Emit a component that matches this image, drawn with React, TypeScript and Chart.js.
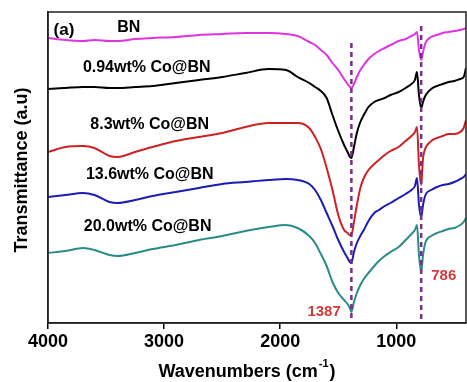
import React, { useEffect, useRef } from "react";
import { Chart, registerables } from "chart.js";
Chart.register(...registerables);

const wavenumbers = [4000, 3850, 3700, 3600, 3470, 3400, 3250, 3100, 2900, 2700, 2500, 2300, 2100, 1950, 1850, 1750, 1700, 1650, 1600, 1550, 1500, 1450, 1420, 1400, 1387, 1365, 1340, 1310, 1280, 1240, 1190, 1150, 1100, 1050, 980, 920, 870, 840, 822, 805, 786, 770, 755, 740, 700, 650, 600, 550, 500, 450, 420, 400];

const bnValues = [285, 283, 282, 283, 282, 282, 284, 285, 286, 288, 289, 290, 290, 289, 287, 281, 278, 273, 268, 260, 253, 244, 239, 236, 235, 239, 246, 253, 258, 264, 269, 272, 275, 278, 282, 284, 287, 289, 291, 273, 263, 271, 278, 282, 286, 288, 290, 291, 292, 293, 294, 295];
const co094Values = [234, 235, 236, 236, 235, 235, 236, 237, 240, 243, 246, 250, 254, 253, 246, 240, 236, 232, 225, 208, 192, 178, 171, 166, 165, 176, 190, 201, 208, 216, 221, 223, 225, 228, 231, 235, 239, 243, 251, 228, 215, 221, 226, 229, 234, 237, 239, 241, 242, 244, 246, 255];
const co83Values = [171, 176, 177, 175, 167, 166, 171, 176, 182, 186, 190, 196, 200, 200, 200, 195, 186, 174, 155, 133, 108, 93, 90, 88, 88, 101, 118, 135, 145, 153, 159, 163, 168, 172, 176, 182, 187, 191, 196, 158, 138, 165, 173, 177, 182, 185, 187, 189, 189, 191, 195, 203];
const co136Values = [126, 128, 130, 128, 121, 120, 123, 127, 131, 135, 139, 141, 143, 144, 143, 139, 133, 123, 110, 97, 83, 71, 65, 61, 60, 71, 80, 87, 93, 102, 110, 113, 117, 120, 125, 129, 133, 137, 145, 118, 106, 118, 126, 130, 133, 136, 138, 139, 141, 144, 146, 149];
const co200Values = [70, 72, 75, 73, 68, 67, 70, 74, 78, 83, 87, 92, 96, 98, 95, 87, 80, 69, 57, 41, 30, 23, 19, 15, 11, 21, 30, 38, 44, 50, 57, 62, 67, 71, 76, 83, 89, 93, 98, 68, 51, 68, 78, 83, 87, 90, 92, 94, 95, 98, 101, 105];

const seriesNames = ["BN", "0.94wt% Co@BN", "8.3wt% Co@BN", "13.6wt% Co@BN", "20.0wt% Co@BN"];
const seriesColors = ["#de35de", "#000000", "#cc2222", "#1c1cb4", "#2a8c88"];
const seriesLabelPos = [
  [3305, 295],
  [3150, 255],
  [3124, 198],
  [3124, 148],
  [3142, 96],
];

const xTicks = [4000, 3000, 2000, 1000];
const peakPositions = [1387, 786];
const peakLineTops = [280, 297];
const peakLabels = ["1387", "786"];
const peakLabelPos = [
  [1622, 11],
  [592, 47],
];

const FONT = "Arial, 'Liberation Sans', sans-serif";

const overlayPlugin = {
  id: "overlay",
  afterDraw(chart: any) {
    const { ctx, chartArea, scales } = chart;
    const xs = scales.x;
    const ys = scales.y;
    ctx.save();
    ctx.strokeStyle = "#222";
    ctx.lineWidth = 1.5;
    ctx.strokeRect(chartArea.left, chartArea.top, chartArea.right - chartArea.left, chartArea.bottom - chartArea.top);

    ctx.fillStyle = "#000";
    ctx.textAlign = "center";
    ctx.textBaseline = "middle";
    ctx.font = `bold 17px ${FONT}`;
    ctx.fillText("(a)", xs.getPixelForValue(3863), ys.getPixelForValue(293));

    ctx.font = `bold 16px ${FONT}`;
    seriesNames.forEach((name, i) => {
      const [wx, wy] = seriesLabelPos[i];
      ctx.fillText(name, xs.getPixelForValue(wx), ys.getPixelForValue(wy));
    });

    ctx.fillStyle = "#d03a3a";
    ctx.font = `bold 15px ${FONT}`;
    peakLabels.forEach((t, i) => {
      const [wx, wy] = peakLabelPos[i];
      ctx.fillText(t, xs.getPixelForValue(wx), ys.getPixelForValue(wy));
    });

    ctx.fillStyle = "#000";
    ctx.textAlign = "left";
    const main = "Wavenumbers (cm";
    const sup = "-1";
    const end = ")";
    ctx.font = `bold 18px ${FONT}`;
    const w1 = ctx.measureText(main).width;
    const w3 = ctx.measureText(end).width;
    ctx.font = `bold 11px ${FONT}`;
    const w2 = ctx.measureText(sup).width;
    const total = w1 + w2 + w3 + 2;
    const cx = 247;
    const cy = 372;
    const x0 = cx - total / 2;
    ctx.font = `bold 18px ${FONT}`;
    ctx.fillText(main, x0, cy);
    ctx.font = `bold 11px ${FONT}`;
    ctx.fillText(sup, x0 + w1 + 1, cy - 8);
    ctx.font = `bold 18px ${FONT}`;
    ctx.fillText(end, x0 + w1 + w2 + 2, cy);

    ctx.translate(22, 170);
    ctx.rotate(-Math.PI / 2);
    ctx.textAlign = "center";
    ctx.font = `bold 18px ${FONT}`;
    ctx.fillText("Transmittance (a.u)", 0, 0);
    ctx.restore();
  },
};

export default function App() {
  const canvasRef = useRef<HTMLCanvasElement | null>(null);

  useEffect(() => {
    const canvas = canvasRef.current;
    if (!canvas) return;
    const seriesData = [bnValues, co094Values, co83Values, co136Values, co200Values];
    const datasets: any[] = seriesData.map((vals, i) => ({
      label: seriesNames[i],
      data: wavenumbers.map((w, j) => ({ x: w, y: vals[j] })),
      borderColor: seriesColors[i],
      borderWidth: 2,
      pointRadius: 0,
      cubicInterpolationMode: "monotone",
      fill: false,
      order: 1,
    }));
    peakPositions.forEach((p, i) => {
      datasets.push({
        label: "peak" + p,
        data: [
          { x: p, y: peakLineTops[i] },
          { x: p, y: 0 },
        ],
        borderColor: "#7a2d8c",
        borderWidth: 2.5,
        borderDash: [5, 4],
        pointRadius: 0,
        fill: false,
        order: 0,
      });
    });

    const chart = new Chart(canvas, {
      type: "line",
      data: { datasets },
      options: {
        responsive: false,
        animation: false,
        layout: { padding: { top: 12, right: 1, left: 0, bottom: 0 } },
        plugins: { legend: { display: false }, tooltip: { enabled: false } },
        scales: {
          x: {
            type: "linear",
            reverse: true,
            min: 400,
            max: 4000,
            afterBuildTicks: (s: any) => {
              s.ticks = xTicks.map((v) => ({ value: v }));
            },
            afterFit: (s: any) => {
              s.height = 59;
            },
            grid: {
              display: true,
              drawOnChartArea: false,
              drawTicks: true,
              tickLength: 6,
              color: "#000",
              lineWidth: 1.5,
            },
            border: { display: true, color: "#222", width: 1.5 },
            ticks: {
              color: "#000",
              font: { family: FONT, size: 18, weight: "bold" },
              padding: 2,
              maxRotation: 0,
              autoSkip: false,
              callback: (v: any) => String(v),
            },
          },
          y: {
            type: "linear",
            min: 0,
            max: 311,
            afterFit: (s: any) => {
              s.width = 48;
            },
            ticks: { display: false },
            grid: { display: false },
            border: { display: true, color: "#222", width: 1.5 },
          },
        },
      },
      plugins: [overlayPlugin],
    });
    return () => chart.destroy();
  }, []);

  return (
    <div style={{ position: "fixed", left: 0, top: 0, width: 467, height: 382, background: "#fff" }}>
      <canvas ref={canvasRef} width={467} height={382} style={{ display: "block" }} />
    </div>
  );
}
